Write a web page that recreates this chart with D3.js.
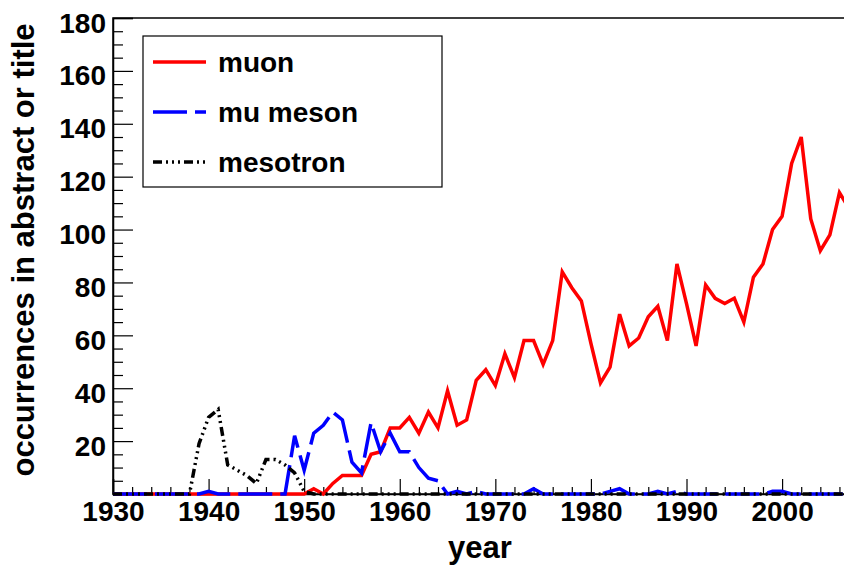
<!DOCTYPE html>
<html>
<head>
<meta charset="utf-8">
<script src="https://cdn.jsdelivr.net/npm/d3@7"></script>
<style>
  body { margin: 0; background: #fff; }
  svg { display: block; }
  text { font-family: "Liberation Sans", Arial, Helvetica, sans-serif; font-weight: bold; fill: #000; }
</style>
</head>
<body>
<svg id="chart" width="844" height="568"></svg>
<script>
// Yearly counts of each term in abstracts or titles
const years = [
  1930, 1931, 1932, 1933, 1934, 1935, 1936, 1937, 1938, 1939,
  1940, 1941, 1942, 1943, 1944, 1945, 1946, 1947, 1948, 1949,
  1950, 1951, 1952, 1953, 1954, 1955, 1956, 1957, 1958, 1959,
  1960, 1961, 1962, 1963, 1964, 1965, 1966, 1967, 1968, 1969,
  1970, 1971, 1972, 1973, 1974, 1975, 1976, 1977, 1978, 1979,
  1980, 1981, 1982, 1983, 1984, 1985, 1986, 1987, 1988, 1989,
  1990, 1991, 1992, 1993, 1994, 1995, 1996, 1997, 1998, 1999,
  2000, 2001, 2002, 2003, 2004, 2005, 2006, 2007
];
const muon = [
  0, 0, 0, 0, 0, 0, 0, 0, 0, 0,
  0, 0, 0, 0, 0, 0, 0, 0, 0, 0,
  0, 2, 0, 4, 7, 7, 7, 15, 16, 25,
  25, 29, 23, 31, 25, 39, 26, 28, 43, 47,
  41, 53, 44, 58, 58, 49, 58, 84, 78, 73,
  57, 42, 48, 68, 56, 59, 67, 71, 58, 87,
  72, 56, 79, 74, 72, 74, 65, 82, 87, 100,
  105, 125, 135, 104, 92, 98, 114, 108
];
const muMeson = [
  0, 0, 0, 0, 0, 0, 0, 0, 0, 0,
  1, 0, 0, 0, 0, 0, 0, 0, 0, 22,
  9, 23, 26, 31, 28, 12, 8, 27, 16, 23,
  16, 16, 10, 6, 5, 0, 1, 0, 1, 0,
  0, 0, 0, 0, 2, 0, 0, 0, 0, 0,
  0, 0, 1, 2, 0, 0, 0, 1, 0, 1,
  0, 0, 0, 0, 0, 0, 0, 0, 0, 1,
  1, 0, 0, 0, 0, 0, 0, 0
];
const mesotron = [
  0, 0, 0, 0, 0, 0, 0, 0, 0, 19,
  29, 32, 11, 9, 7, 4, 13, 13, 11, 8,
  1, 0, 0, 0, 0, 0, 0, 0, 0, 0,
  0, 0, 0, 0, 0, 0, 0, 0, 0, 0,
  0, 0, 0, 0, 0, 0, 0, 0, 0, 0,
  0, 0, 0, 0, 0, 0, 0, 0, 0, 0,
  0, 0, 0, 0, 0, 0, 0, 0, 0, 0,
  0, 0, 0, 0, 0, 0, 0, 0
];
const seriesNames = ["muon", "mu meson", "mesotron"];
const xTickYears = [1930, 1940, 1950, 1960, 1970, 1980, 1990, 2000];
const yTickValues = [20, 40, 60, 80, 100, 120, 140, 160, 180];
const xTitle = "year";
const yTitle = "occurrences in abstract or title";

// Frame and scales
const frame = { left: 113, top: 18, right: 849, bottom: 494 };
const x = d3.scaleLinear().domain([1930, 2007]).range([frame.left, frame.right]);
const y = d3.scaleLinear().domain([0, 180]).range([frame.bottom, frame.top]);

const svg = d3.select("#chart");

svg.append("rect")
  .attr("x", frame.left).attr("y", frame.top)
  .attr("width", frame.right - frame.left).attr("height", frame.bottom - frame.top)
  .attr("fill", "none").attr("stroke", "#000").attr("stroke-width", 1.5);

// Minor ticks (every 2 years, every 5 counts)
const xMinor = d3.range(1930, 2008, 2).filter(v => v % 10 !== 0);
const yMinor = d3.range(5, 181, 5).filter(v => v % 20 !== 0);

svg.append("g")
  .attr("transform", `translate(0,${frame.bottom})`)
  .call(d3.axisBottom(x).tickValues(xMinor).tickSize(-7).tickFormat(""))
  .call(g => g.select(".domain").remove());
svg.append("g")
  .attr("transform", `translate(${frame.left},0)`)
  .call(d3.axisLeft(y).tickValues(yMinor).tickSize(-10).tickFormat(""))
  .call(g => g.select(".domain").remove());

// Major ticks with labels
const labelFont = "'Liberation Sans', Arial, sans-serif";
const xAxis = svg.append("g")
  .attr("transform", `translate(0,${frame.bottom})`)
  .call(d3.axisBottom(x).tickValues(xTickYears).tickSize(-15).tickPadding(7).tickFormat(d3.format("d")));
xAxis.select(".domain").attr("stroke-width", 1.5);
xAxis.selectAll("text").attr("font-size", 28).style("font-family", labelFont).style("font-weight", "bold");

const yAxis = svg.append("g")
  .attr("transform", `translate(${frame.left},0)`)
  .call(d3.axisLeft(y).tickValues(yTickValues).tickSize(-20).tickPadding(7).tickFormat(d3.format("d")));
yAxis.select(".domain").attr("stroke-width", 1.5);
yAxis.selectAll("text").attr("font-size", 28).attr("dy", "0.5em").style("font-family", labelFont).style("font-weight", "bold");

svg.selectAll(".tick line").attr("stroke", "#000").attr("stroke-width", 1.2);

// Series lines
const series = [
  { name: seriesNames[0], values: muon, color: "#ff0000", dash: null },
  { name: seriesNames[1], values: muMeson, color: "#0000ff", dash: "34 8" },
  { name: seriesNames[2], values: mesotron, color: "#000000", dash: "9 4 2 4 2 4 2 4" }
];

const line = d3.line()
  .x((d, i) => x(years[i]))
  .y(d => y(d));

svg.append("defs").append("clipPath").attr("id", "plotClip")
  .append("rect").attr("x", frame.left).attr("y", frame.top - 2)
  .attr("width", frame.right - frame.left).attr("height", frame.bottom - frame.top + 6);

const plot = svg.append("g").attr("clip-path", "url(#plotClip)");
series.forEach(s => {
  plot.append("path")
    .datum(s.values)
    .attr("d", line)
    .attr("fill", "none")
    .attr("stroke", s.color)
    .attr("stroke-width", 3.5)
    .attr("stroke-linejoin", "miter")
    .attr("stroke-dasharray", s.dash);
});

// Axis titles
svg.append("text")
  .attr("x", 480).attr("y", 558)
  .attr("text-anchor", "middle").attr("font-size", 31)
  .text(xTitle);
svg.append("text")
  .attr("transform", "translate(34,250) rotate(-90)")
  .attr("text-anchor", "middle").attr("font-size", 31)
  .text(yTitle);

// Legend
const legend = svg.append("g");
legend.append("rect")
  .attr("x", 143).attr("y", 36).attr("width", 299).attr("height", 151)
  .attr("fill", "#fff").attr("stroke", "#000").attr("stroke-width", 1.2);
series.forEach((s, i) => {
  const cy = 62 + i * 50;
  legend.append("line")
    .attr("x1", 153).attr("x2", 206).attr("y1", cy).attr("y2", cy)
    .attr("stroke", s.color).attr("stroke-width", 3.5)
    .attr("stroke-dasharray", s.dash);
  legend.append("text")
    .attr("x", 218).attr("y", cy).attr("dy", "0.36em")
    .attr("font-size", 28)
    .text(s.name);
});
</script>
</body>
</html>
